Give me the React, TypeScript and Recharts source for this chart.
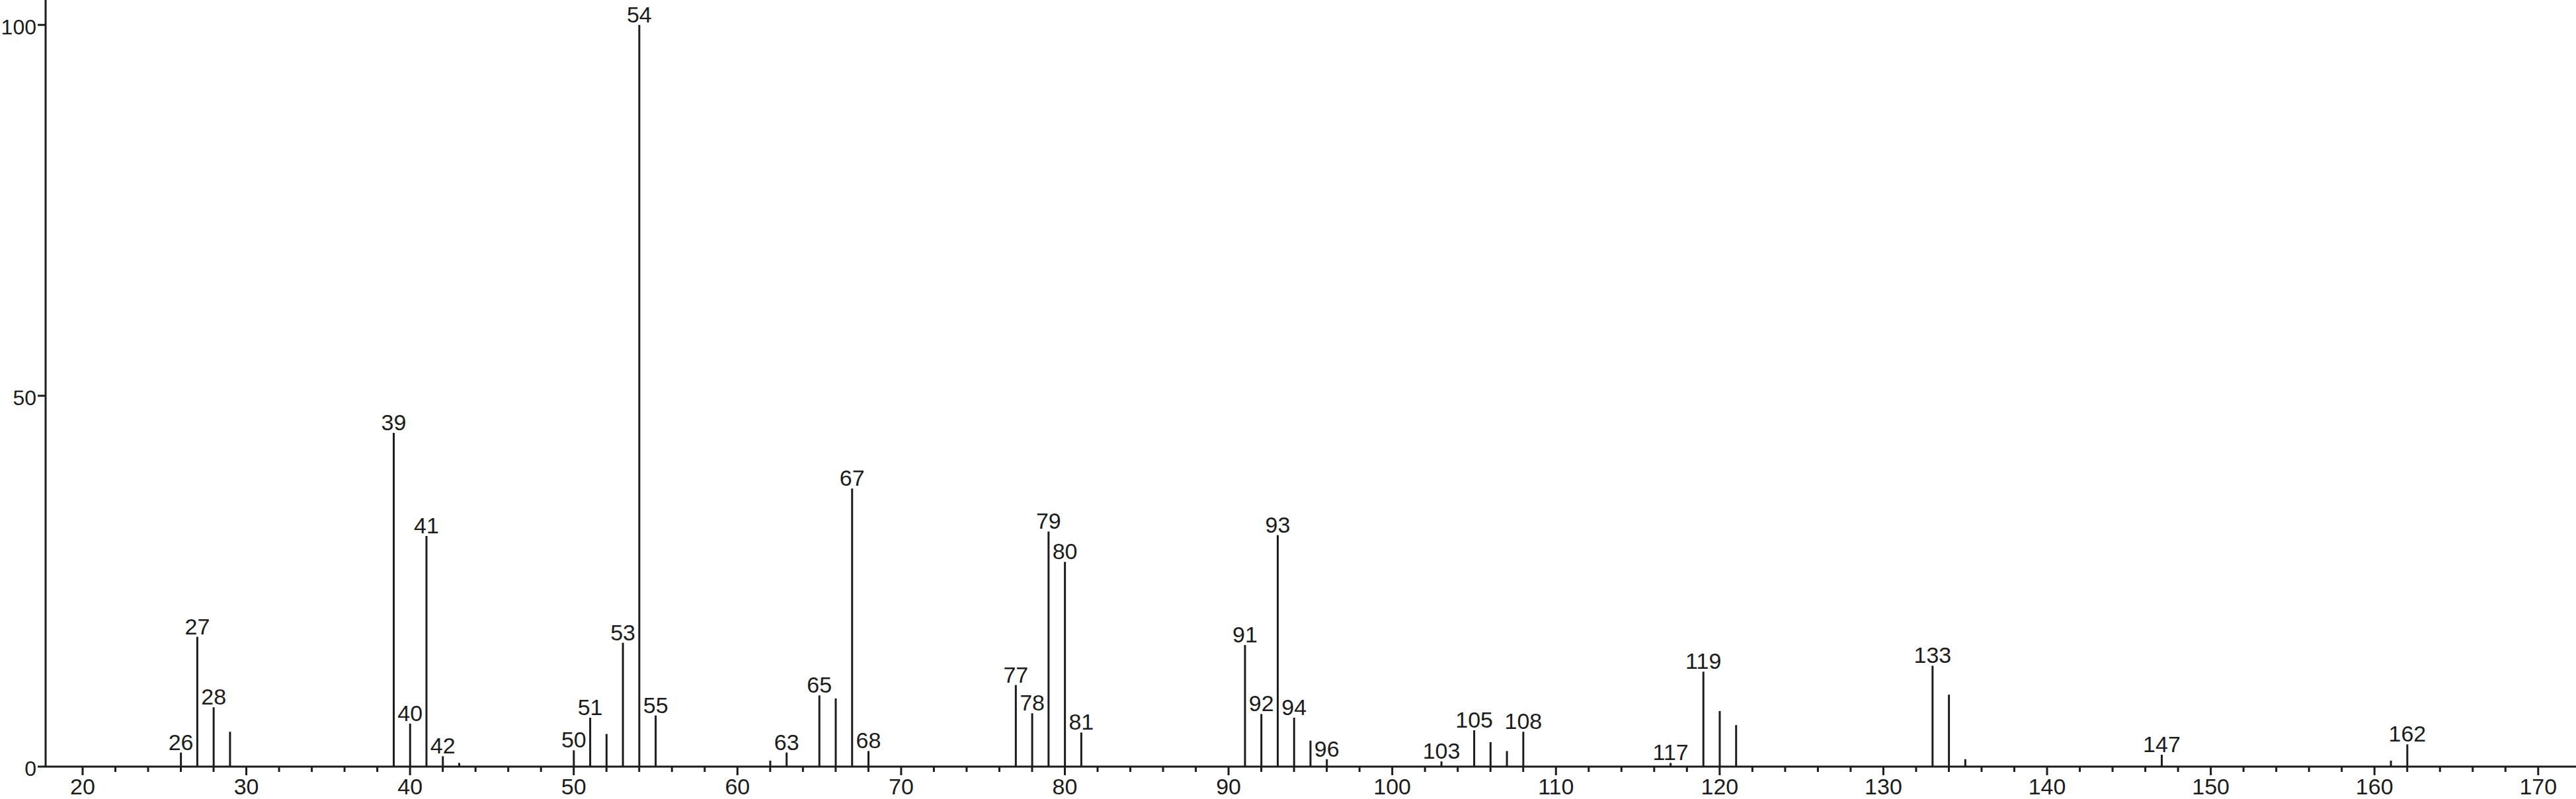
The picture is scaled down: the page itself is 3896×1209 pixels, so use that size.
import React from "react";
import { Bar, BarChart, LabelList, XAxis, YAxis } from "recharts";

// m/z values and relative intensities
const mz = [
  26, 27, 28, 29, 39, 40, 41, 42, 43, 50, 51, 52, 53, 54, 55, 62, 63, 65, 66, 67,
  68, 77, 78, 79, 80, 81, 91, 92, 93, 94, 95, 96, 103, 105, 106, 107, 108, 117,
  119, 120, 121, 133, 134, 135, 147, 161, 162,
];
const intensity = [
  1.9, 17.5, 8.0, 4.7, 45.0, 5.8, 31.1, 1.4, 0.5, 2.2, 6.6, 4.4, 16.7, 100, 6.9,
  0.8, 1.9, 9.6, 9.2, 37.5, 2.1, 11.0, 7.2, 31.7, 27.6, 4.6, 16.4, 7.1, 31.2, 6.6,
  3.5, 1.0, 0.7, 4.9, 3.3, 2.1, 4.7, 0.5, 12.8, 7.5, 5.6, 13.6, 9.7, 1.0, 1.6, 0.8,
  3.0,
];
// peaks that carry an m/z label
const labeledPeaks = [
  26, 27, 28, 39, 40, 41, 42, 50, 51, 53, 54, 55, 63, 65, 67, 68, 77, 78, 79, 80,
  81, 91, 92, 93, 94, 96, 103, 105, 108, 117, 119, 133, 147, 162,
];

const majorTicks = [20, 30, 40, 50, 60, 70, 80, 90, 100, 110, 120, 130, 140, 150, 160, 170];
const minorTicks = [
  22, 24, 26, 28, 32, 34, 36, 38, 42, 44, 46, 48, 52, 54, 56, 58, 62, 64, 66, 68,
  72, 74, 76, 78, 82, 84, 86, 88, 92, 94, 96, 98, 102, 104, 106, 108, 112, 114,
  116, 118, 122, 124, 126, 128, 132, 134, 136, 138, 142, 144, 146, 148, 152, 154,
  156, 158, 162, 164, 166, 168,
];
const yTicks = [0, 50, 100];

const INK = "#1c1c1c";
const FONT = "'Liberation Sans Narrow', 'Liberation Sans', Arial, sans-serif";
const FS = 34;

const data = mz.map((m, i) => ({
  mz: m,
  intensity: intensity[i],
  label: labeledPeaks.includes(m) ? String(m) : "",
}));

const xTicks = [...majorTicks, ...minorTicks].sort((a, b) => a - b);

function XTick(props: any) {
  const { x, y, payload } = props;
  const major = majorTicks.includes(payload.value);
  return (
    <g>
      <line x1={x} x2={x} y1={y} y2={y + (major ? 13 : 8)} stroke={INK} strokeWidth={3} />
      {major && (
        <text x={x} y={y + 42} textAnchor="middle" fontSize={FS} fontFamily={FONT} fill={INK}>
          {payload.value}
        </text>
      )}
    </g>
  );
}

function YTick(props: any) {
  const { x, y, payload } = props;
  return (
    <text x={x} y={y + 14} textAnchor="end" fontSize={32} fontFamily={FONT} fill={INK}>
      {payload.value}
    </text>
  );
}

function PeakLabel(props: any) {
  const { x, y, width, value } = props;
  if (!value) return null;
  return (
    <text
      x={x + width / 2}
      y={y - 4}
      textAnchor="middle"
      fontSize={FS}
      fontFamily={FONT}
      fill={INK}
    >
      {value}
    </text>
  );
}

export default function App() {
  return (
    <div style={{ position: "absolute", left: 0, top: 0, width: 3896, height: 1209, background: "#fff" }}>
      <BarChart width={3896} height={1209} data={data} margin={{ top: 0, right: 0, left: 0, bottom: 0 }}>
        <XAxis
          type="number"
          dataKey="mz"
          domain={[17.74, 172.31]}
          allowDataOverflow
          ticks={xTicks}
          interval={0}
          height={49}
          tickLine={false}
          tickSize={0}
          tickMargin={0}
          axisLine={{ stroke: INK, strokeWidth: 3 }}
          tick={<XTick />}
        />
        <YAxis
          type="number"
          domain={[0, 103.36]}
          allowDataOverflow
          ticks={yTicks}
          interval={0}
          width={69}
          tickSize={12}
          tickMargin={2}
          tickLine={{ stroke: INK, strokeWidth: 3 }}
          axisLine={{ stroke: INK, strokeWidth: 3 }}
          tick={<YTick />}
        />
        <Bar dataKey="intensity" fill={INK} barSize={3} isAnimationActive={false}>
          <LabelList dataKey="label" content={<PeakLabel />} />
        </Bar>
      </BarChart>
    </div>
  );
}
